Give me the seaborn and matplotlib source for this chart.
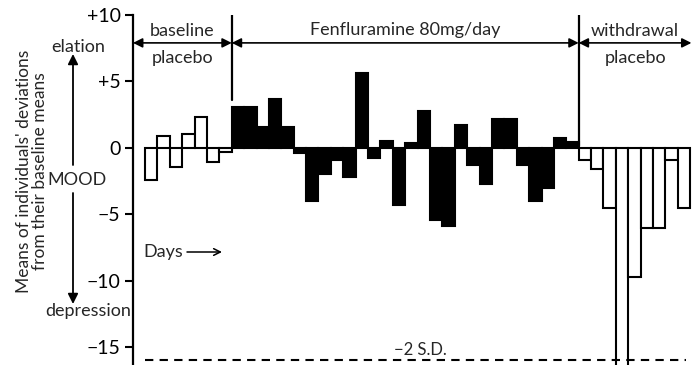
import matplotlib
matplotlib.use("Agg")
import matplotlib.pyplot as plt
import seaborn as sns
import pandas as pd
import numpy as np

# ---- data ----
baseline_vals = [-2.4, 0.9, -1.45, 1.05, 2.3, -1.05, -0.35]
fen_vals = [3.1, 3.1, 1.6, 3.7, 1.55, -0.4, -4.0, -2.0, -0.9, -2.2,
            5.6, -0.8, 0.5, -4.3, 0.35, 2.75, -5.45, -5.85, 1.7, -1.3,
            -2.75, 2.15, 2.15, -1.3, -4.0, -3.0, 0.75, 0.45]
withdrawal_vals = [-0.9, -1.6, -4.5, -18.0, -9.7, -6.0, -6.0, -0.9, -4.5]
phases = ["baseline", "fenfluramine", "withdrawal"]
ytick_vals = [10, 5, 0, -5, -10, -15]
ytick_labels = ["+10", "+5", "0", "\u22125", "\u221210", "\u221215"]
sd_line = -16.0

values = baseline_vals + fen_vals + withdrawal_vals
phase_col = ([phases[0]] * len(baseline_vals) + [phases[1]] * len(fen_vals)
             + [phases[2]] * len(withdrawal_vals))
df = pd.DataFrame({"day": np.arange(len(values)), "value": values, "phase": phase_col})

sns.set_theme(style="white")
plt.rcParams["font.family"] = ["Lato", "DejaVu Sans"]

W, H = 699, 365
fig = plt.figure(figsize=(W / 100, H / 100), dpi=100)
ax = fig.add_axes([133 / W, 0, 1 - 133 / W, 1 - 15 / H])

sns.barplot(data=df, x="day", y="value", hue="phase", dodge=False, width=1.0,
            palette={"baseline": "white", "fenfluramine": "black", "withdrawal": "white"},
            edgecolor="black", linewidth=1.5, legend=False, ax=ax, order=list(df["day"]))

n = len(values)
ax.set_xlim(-1.47, 44.21)
ax.set_ylim(-16.35, 10)
ax.set_xlabel("")
ax.set_ylabel("")
ax.set_xticks([])
ax.set_yticks(ytick_vals)
ax.set_yticklabels(ytick_labels, fontsize=14)
ax.tick_params(axis="y", direction="out", length=6, width=1.5, left=True, pad=3, colors="black")
for s in ["top", "right", "bottom"]:
    ax.spines[s].set_visible(False)
ax.spines["left"].set_linewidth(1.6)
ax.spines["left"].set_color("black")

# -2 SD line
ax.plot([-0.5, n - 0.5 - 0.3], [sd_line, sd_line], ls=(0, (4, 3)), color="black", lw=1.5, clip_on=False)
ax.text(21.7, sd_line + 0.2, "\u22122 S.D.", ha="center", va="bottom", fontsize=12)

# phase dividers
b1 = len(baseline_vals) - 0.5
b2 = len(baseline_vals) + len(fen_vals) - 0.5
ax.plot([b1, b1], [10, 3.6], color="black", lw=1.6)
ax.plot([b2, b2], [10, 0.15], color="black", lw=1.6)
ya = 7.9
ap = dict(arrowstyle="<|-|>", color="black", lw=1.2, mutation_scale=14, shrinkA=0, shrinkB=0)
ax.annotate("", xy=(-1.47, ya), xytext=(b1, ya), arrowprops=ap)
ax.annotate("", xy=(b1, ya), xytext=(b2, ya), arrowprops=ap)
ax.annotate("", xy=(b2, ya), xytext=(43.6, ya), arrowprops=ap)
fs = 13
ax.text((-1.47 + b1) / 2, 8.8, "baseline", ha="center", va="center", fontsize=fs)
ax.text((-1.47 + b1) / 2, 6.75, "placebo", ha="center", va="center", fontsize=fs)
ax.text((b1 + b2) / 2, 8.9, "Fenfluramine 80mg/day", ha="center", va="center", fontsize=fs)
ax.text((b2 + 43.6) / 2, 8.8, "withdrawal", ha="center", va="center", fontsize=fs)
ax.text((b2 + 43.6) / 2, 6.75, "placebo", ha="center", va="center", fontsize=fs)

# left annotations (figure pixel coords)
def fx(px):
    return px / W

def fy(py):
    return 1 - py / H

fig.text(fx(32), fy(171), "Means of individuals' deviations\nfrom their baseline means",
         rotation=90, ha="center", va="center", fontsize=12.5, linespacing=1.0)
fig.text(fx(78), fy(47), "elation", ha="center", va="center", fontsize=fs)
fig.text(fx(77), fy(180), "MOOD", ha="center", va="center", fontsize=fs)
fig.text(fx(88), fy(311), "depression", ha="center", va="center", fontsize=fs)
fig.text(fx(143), fy(252), "Days", ha="left", va="center", fontsize=fs)
arr = dict(arrowstyle="-|>", color="black", lw=1.3, mutation_scale=15, shrinkA=0, shrinkB=0)
fig.add_artist(matplotlib.patches.FancyArrowPatch((fx(73), fy(165)), (fx(73), fy(54)),
                                                  transform=fig.transFigure, **arr))
fig.add_artist(matplotlib.patches.FancyArrowPatch((fx(73), fy(193)), (fx(73), fy(304)),
                                                  transform=fig.transFigure, **arr))
fig.add_artist(matplotlib.patches.FancyArrowPatch((fx(187), fy(252)), (fx(222), fy(252)),
                                                  transform=fig.transFigure,
                                                  arrowstyle="->", color="black", lw=1.1,
                                                  mutation_scale=12, shrinkA=0, shrinkB=0))

fig.savefig("out.png", dpi=100)
